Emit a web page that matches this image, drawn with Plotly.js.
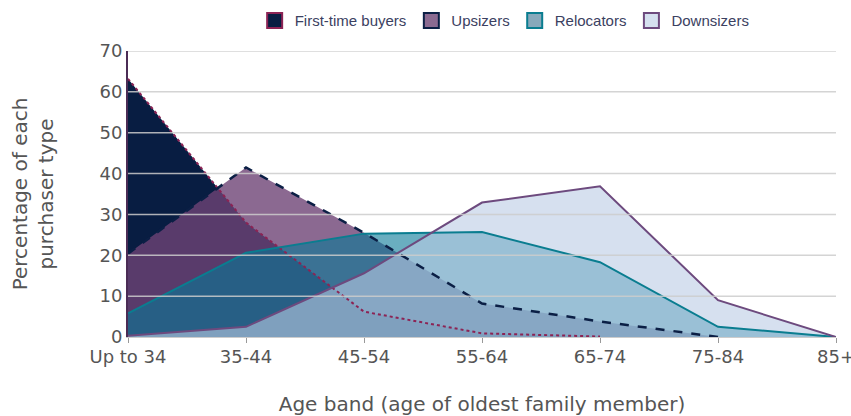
<!DOCTYPE html>
<html>
<head>
<meta charset="utf-8">
<script src="https://cdn.plot.ly/plotly-3.0.1.min.js"></script>
<style>html,body{margin:0;padding:0;background:#fff;}#chart{width:851px;height:416px;}</style>
</head>
<body>
<div id="chart"></div>
<script>
const categories = ['Up to 34', '35-44', '45-54', '55-64', '65-74', '75-84', '85+'];
const firstTimeBuyers = [63.2, 28.0, 6.2, 0.9, 0.1, null, null];
const upsizers = [20.4, 41.5, 25.5, 8.2, 3.8, 0, null];
const relocators = [5.8, 20.6, 25.3, 25.7, 18.3, 2.5, 0];
const downsizers = [0.3, 2.5, 15.6, 32.9, 36.9, 9.0, 0];
const seriesNames = ['First-time buyers', 'Upsizers', 'Relocators', 'Downsizers'];
const yTicks = [0, 10, 20, 30, 40, 50, 60, 70];

const seriesData = [firstTimeBuyers, upsizers, relocators, downsizers];
const fillColors = ['rgb(8,29,66)', 'rgba(110,68,118,0.8)', 'rgba(7,120,150,0.6)', 'rgba(186,204,229,0.6)'];
const lineColors = ['#8c2354', '#0b1f45', '#0a7d90', '#6d4a7e'];
const lineDash = ['dot', 'dash', 'solid', 'solid'];
const lineWidths = [2, 2.5, 2, 2];
const legendFill = ['#081d42', '#8b6a91', '#88a9bb', '#d5e0ef'];

const traces = [];
seriesData.forEach((vals, i) => {
  traces.push({
    type: 'scatter', mode: 'none', x: categories, y: vals,
    fill: 'tozeroy', fillcolor: fillColors[i], showlegend: false, hoverinfo: 'skip'
  });
});
seriesData.forEach((vals, i) => {
  traces.push({
    type: 'scatter', mode: 'lines', x: categories, y: vals, name: seriesNames[i],
    line: {color: lineColors[i], width: lineWidths[i], dash: lineDash[i]}, showlegend: false
  });
});
seriesNames.forEach((n, i) => {
  traces.push({
    type: 'scatter', mode: 'markers', x: [null], y: [null], name: n,
    marker: {symbol: 'square', size: 15, color: legendFill[i], line: {color: lineColors[i], width: 2}}
  });
});

const gridShapes = yTicks.filter(v => v > 0).map(v => ({
  type: 'line', xref: 'paper', x0: 0, x1: 1, yref: 'y', y0: v, y1: v,
  layer: 'above', line: {color: 'rgba(205,205,205,0.85)', width: 1.5}
}));

const layout = {
  width: 851, height: 416,
  margin: {l: 128, r: 15, t: 51, b: 79},
  paper_bgcolor: '#fff', plot_bgcolor: '#fff',
  font: {family: 'DejaVu Sans, Arial, sans-serif', color: '#555'},
  showlegend: true,
  legend: {
    orientation: 'h', xref: 'paper', x: 0.532, xanchor: 'center',
    yref: 'container', y: 0.99, yanchor: 'top',
    font: {family: 'Liberation Sans, Arial, sans-serif', size: 15, color: '#3b4161'},
    itemwidth: 30, traceorder: 'normal'
  },
  xaxis: {
    type: 'category', range: [0, 6], showgrid: false, zeroline: false,
    showline: true, linecolor: '#cccccc', linewidth: 1,
    ticks: 'outside', ticklen: 5, tickcolor: '#999', tickwidth: 1,
    ticklabelstandoff: -2,
    tickfont: {size: 18, color: '#555'},
    title: {text: 'Age band (age of oldest family member)', font: {size: 20, color: '#555'}, standoff: 42},
    automargin: false, layer: 'above traces'
  },
  yaxis: {
    range: [0, 70], tickvals: yTicks, showgrid: false, zeroline: false,
    showline: true, linecolor: '#4b2c55', linewidth: 2,
    ticks: '', tickfont: {size: 18, color: '#555'},
    title: {text: 'Percentage of each<br>purchaser type', font: {size: 20, color: '#555'}, standoff: 40},
    automargin: false, layer: 'above traces'
  },
  shapes: gridShapes
};

Plotly.newPlot('chart', traces, layout, {displayModeBar: false, staticPlot: true});
</script>
</body>
</html>
